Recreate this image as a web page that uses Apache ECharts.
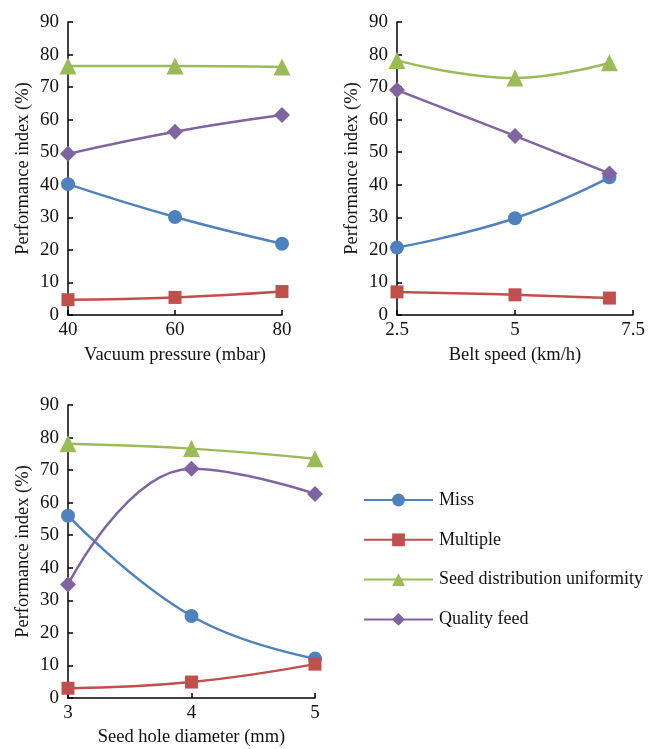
<!DOCTYPE html>
<html>
<head>
<meta charset="utf-8">
<script src="https://cdn.jsdelivr.net/npm/echarts@6/dist/echarts.min.js"></script>
<style>
html,body{margin:0;padding:0;background:#fff;}
#chart{width:650px;height:749px;}
</style>
</head>
<body>
<div id="chart"></div>
<script>
const seriesNames = ['Miss', 'Multiple', 'Seed distribution uniformity', 'Quality feed'];

const vacuumX = [40, 60, 80];
const vacMiss = [40.2, 30.1, 21.9];
const vacMultiple = [4.7, 5.4, 7.2];
const vacUniform = [76.5, 76.5, 76.2];
const vacQuality = [49.5, 56.3, 61.4];

const beltX = [2.5, 5, 7];
const beltMiss = [20.7, 29.7, 42.3];
const beltMultiple = [7.1, 6.2, 5.2];
const beltUniform = [78.2, 72.8, 77.5];
const beltQuality = [69.1, 55.0, 43.5];

const holeX = [3, 4, 5];
const holeMiss = [56.0, 25.2, 12.1];
const holeMultiple = [3.0, 4.9, 10.4];
const holeUniform = [78.1, 76.6, 73.5];
const holeQuality = [34.9, 70.4, 62.7];

const yTicks = [0, 10, 20, 30, 40, 50, 60, 70, 80, 90];

const colors = ['#4F81BD', '#C0504D', '#9BBB59', '#8064A2'];
const symbols = ['circle', 'rect', 'triangle', 'diamond'];
const symbolSizes = [14, 13, 17, 16];

const FONT = '"Liberation Serif", "Times New Roman", serif';

const panels = [
  {x: vacuumX, ys: [vacMiss, vacMultiple, vacUniform, vacQuality], name: 'Vacuum pressure (mbar)', min: 40, max: 80, interval: 20, gap: 31},
  {x: beltX, ys: [beltMiss, beltMultiple, beltUniform, beltQuality], name: 'Belt speed (km/h)', min: 2.5, max: 7.5, interval: 2.5, gap: 31},
  {x: holeX, ys: [holeMiss, holeMultiple, holeUniform, holeQuality], name: 'Seed hole diameter (mm)', min: 3, max: 5, interval: 1, gap: 30}
];

const grids = [
  {left: 68, top: 22, width: 214, height: 293},
  {left: 397, top: 22, width: 236, height: 293},
  {left: 68, top: 405, width: 247, height: 293}
];

const axisLineStyle = {show: true, lineStyle: {color: '#000', width: 1.5}};
const tickStyle = {show: true, inside: true, length: 5, lineStyle: {color: '#000', width: 1.5}};
const labelStyle = {color: '#111', fontFamily: FONT, fontSize: 19};

const xAxes = panels.map((p, i) => ({
  type: 'value', gridIndex: i, min: p.min, max: p.max, interval: p.interval,
  name: p.name, nameLocation: 'middle', nameGap: p.gap,
  nameTextStyle: {color: '#111', fontFamily: FONT, fontSize: 18.5},
  axisLine: axisLineStyle, axisTick: tickStyle,
  axisLabel: Object.assign({margin: 6}, labelStyle),
  splitLine: {show: false}
}));

const yAxes = panels.map((p, i) => ({
  type: 'value', gridIndex: i, min: yTicks[0], max: yTicks[yTicks.length - 1], interval: yTicks[1] - yTicks[0],
  name: 'Performance index (%)', nameLocation: 'middle', nameGap: 35,
  nameTextStyle: {color: '#111', fontFamily: FONT, fontSize: 18.5},
  axisLine: axisLineStyle, axisTick: tickStyle,
  axisLabel: Object.assign({margin: 9}, labelStyle),
  splitLine: {show: false}
}));

const series = [];
panels.forEach((p, i) => {
  p.ys.forEach((ys, k) => {
    series.push({
      name: seriesNames[k], type: 'line', xAxisIndex: i, yAxisIndex: i,
      data: p.x.map((xv, j) => [xv, ys[j]]),
      smooth: 0.45,
      symbol: symbols[k], symbolSize: symbolSizes[k],
      lineStyle: {color: colors[k], width: 2.5},
      itemStyle: {color: colors[k]},
      z: 2 + k
    });
  });
});

const chart = echarts.init(document.getElementById('chart'), null, {renderer: 'canvas'});
chart.setOption({
  animation: false,
  backgroundColor: '#fff',
  color: colors,
  legend: {
    data: seriesNames,
    orient: 'vertical', left: 358, top: 486,
    itemWidth: 69, itemHeight: 16, itemGap: 21.8,
    textStyle: {color: '#111', fontFamily: FONT, fontSize: 18, padding: [0, 0, 0, 1]}
  },
  grid: grids,
  xAxis: xAxes,
  yAxis: yAxes,
  series: series
});
</script>
</body>
</html>
